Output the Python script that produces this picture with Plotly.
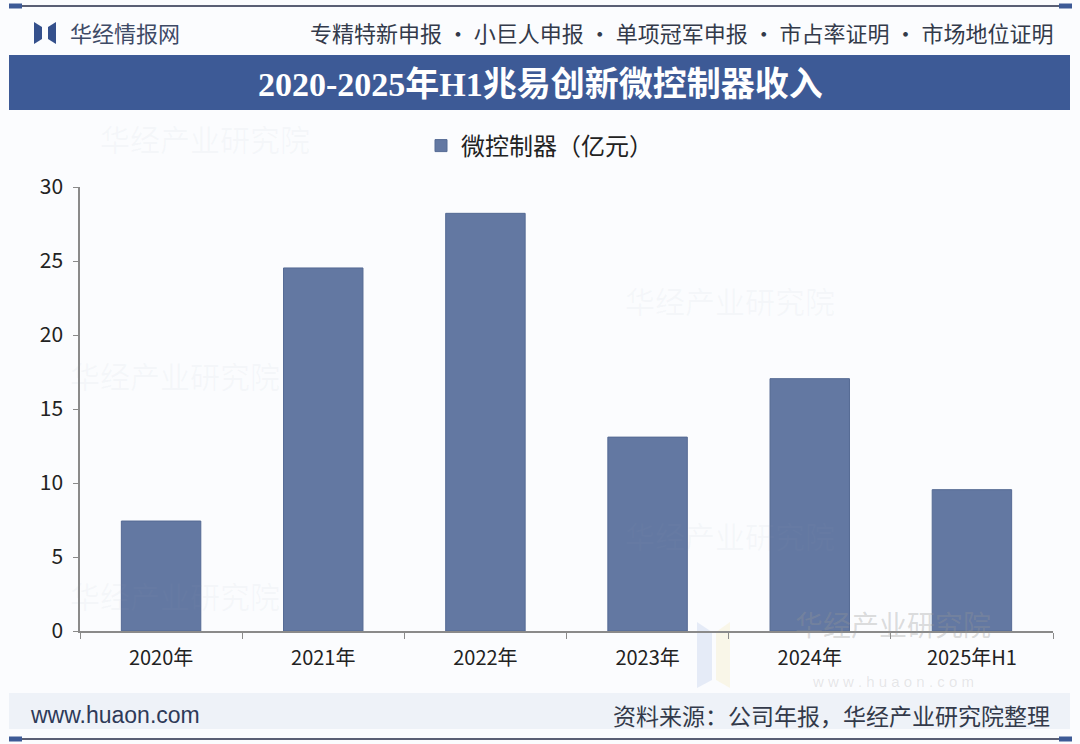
import plotly.graph_objects as go

categories = ["2020年", "2021年", "2022年", "2023年", "2024年", "2025年H1"]
revenue = [7.43, 24.53, 28.22, 13.1, 17.05, 9.55]
series_name = "微控制器（亿元）"
y_ticks = [0, 5, 10, 15, 20, 25, 30]

title_text = "2020-2025年H1兆易创新微控制器收入"
brand_text = "华经情报网"
services_text = "专精特新申报 · 小巨人申报 · 单项冠军申报 · 市占率证明 · 市场地位证明"
site_text = "www.huaon.com"
source_text = "资料来源：公司年报，华经产业研究院整理"
watermark_text = "华经产业研究院"

W, H = 1080, 744
L, R, T, B = 80, 27, 187, 113
PW, PH = W - L - R, H - T - B

BAR = "#6378A2"
BAND = "#3D5A96"
CJK = "Noto Sans CJK SC"


def px(x):
    return (x - L) / PW


def py(y):
    return (H - B - y) / PH


fig = go.Figure()
fig.add_trace(go.Bar(
    x=categories, y=revenue, name=series_name,
    marker=dict(color=BAR, line=dict(color="#556A94", width=1)),
    width=0.49, showlegend=True,
))

shapes = []


def hline(x0, x1, y, color, width, layer="above"):
    shapes.append(dict(type="line", xref="paper", yref="paper", x0=px(x0), x1=px(x1), y0=py(y), y1=py(y),
                       line=dict(color=color, width=width), layer=layer))


def rect(x0, x1, y0, y1, color, layer="below"):
    shapes.append(dict(type="rect", xref="paper", yref="paper", x0=px(x0), x1=px(x1), y0=py(y1), y1=py(y0),
                       fillcolor=color, line=dict(width=0), layer=layer))


def poly(pts, color, layer="above"):
    path = "M " + " L ".join(f"{px(a)} {py(b)}" for a, b in pts) + " Z"
    shapes.append(dict(type="path", xref="paper", yref="paper", path=path, fillcolor=color,
                       line=dict(width=0), layer=layer))


# top rule
hline(9, 1072, 6, "#5A5F74", 2)
hline(9, 22, 6, BAND, 5)
hline(1059, 1072, 6, BAND, 5)
# logo icon
poly([(34, 22), (42, 27), (42, 39), (34, 44)], "#34508C")
poly([(56, 22), (48, 27), (48, 39), (56, 44)], "#34508C")
# title band
rect(9, 1070, 55, 110, BAND, layer="above")
# footer band
rect(9, 1070, 693, 729, "#EEF2F8")
# bottom rule
hline(9, 1072, 739, "#5A5F74", 2)
hline(9, 22, 739, BAND, 5)
hline(1059, 1072, 739, BAND, 5)
# watermark logo (faint)
poly([(697, 622), (712, 632), (712, 680), (697, 688)], "rgba(120,150,210,0.16)", layer="below")
poly([(730, 622), (716, 632), (716, 680), (730, 688)], "rgba(240,215,120,0.16)", layer="below")


def note(text, x, y, anchor, size, color, family=CJK):
    return dict(text=text, x=px(x), y=py(y), xref="paper", yref="paper", xanchor=anchor, yanchor="middle",
                showarrow=False, font=dict(family=family, size=size, color=color))


annotations = [
    note(brand_text, 68, 32, "left", 22, "#3E4A66"),
    note(services_text, 1055, 32, "right", 22, "#333A4A"),
    note(f"<b>{title_text}</b>", 540, 84, "center", 34, "#FFFFFF", family="Liberation Serif, " + CJK),
    note(site_text, 28, 715, "left", 23, "#2E3A58", family="Liberation Sans, " + CJK),
    note(source_text, 1052, 715, "right", 23, "#333A4A"),
    note(watermark_text, 893, 624, "center", 28, "rgba(150,150,150,0.33)"),
    note("w w w . h u a o n . c o m", 893, 681, "center", 15, "rgba(150,150,150,0.22)",
         family="Liberation Sans"),
]
for (wx, wy) in [(205, 138), (730, 300), (175, 375), (730, 535), (175, 595)]:
    annotations.append(note(watermark_text, wx, wy, "center", 30, "rgba(150,160,180,0.06)"))

fig.update_layout(
    width=W, height=H,
    margin=dict(l=L, r=R, t=T, b=B, pad=0),
    paper_bgcolor="#FBFCFE", plot_bgcolor="rgba(0,0,0,0)",
    shapes=shapes, annotations=annotations,
    showlegend=True,
    legend=dict(orientation="h", x=px(421), xanchor="left", y=py(146), yanchor="middle",
                font=dict(family=CJK, size=24, color="#222222"), bgcolor="rgba(0,0,0,0)"),
    bargap=0.5,
    xaxis=dict(showgrid=False, showline=True, linecolor="#8A8A8A", linewidth=1.5,
               ticks="outside", tickson="boundaries", ticklen=6, tickcolor="#8A8A8A",
               ticklabelstandoff=8,
               tickfont=dict(family="Liberation Sans Narrow, " + CJK, size=20, color="#222222"),
               fixedrange=True),
    yaxis=dict(range=[0, 30], tickvals=y_ticks, showgrid=False, zeroline=False, showline=True,
               linecolor="#8A8A8A", linewidth=1.5, ticks="outside", ticklen=5, tickcolor="#8A8A8A",
               ticklabelstandoff=6,
               tickfont=dict(family="Liberation Sans Narrow, " + CJK, size=21, color="#222222"),
               fixedrange=True),
)

fig.write_html("out.html", config={"displayModeBar": False},
               post_script="document.body.style.margin='0px';")
